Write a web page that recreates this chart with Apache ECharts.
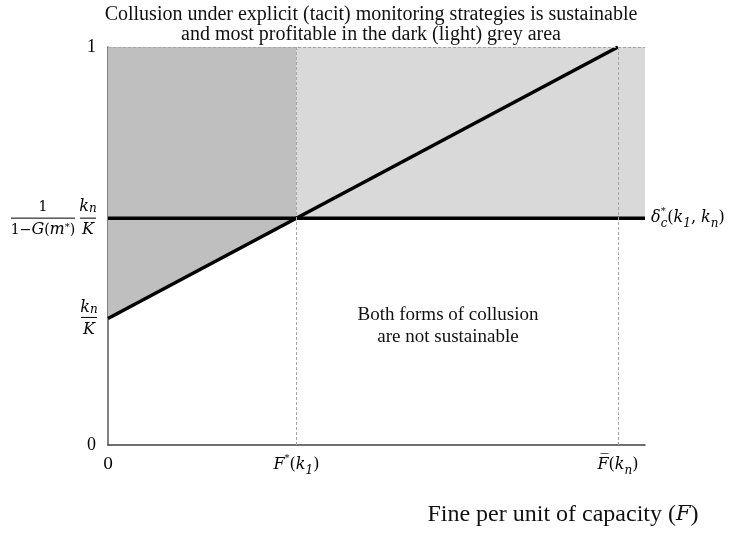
<!DOCTYPE html>
<html>
<head>
<meta charset="utf-8">
<script src="https://cdn.jsdelivr.net/npm/echarts@6/dist/echarts.min.js"></script>
<style>
  html, body { margin: 0; padding: 0; background: #fff; }
  #chart { width: 730px; height: 534px; }
</style>
</head>
<body>
<div id="chart"></div>
<script>
// 数据
const fineRange = [0, 1.053]       // 横轴范围 (F)
const fineValues = [0, 1]          // 显性共谋临界线的 F 值
const deltaEValues = [0.318, 1]    // δe*(kn, F)
const deltaCValues = [0.57, 0.57]  // δc*(k1, kn)
const fStar = 0.3695               // F*(k1)
const fBar = 1                     // F̄(kn)
const xTickValues = [0, fStar, fBar]
const xTickLabels = ['0', '{i|F}{sup|*}({i|k}{sub|1})', '{i|F\u0305}({i|k}{sub|n})']
const yTickValues = [0, 1]
const yTickLabels = ['0', '1']

// 字体：正文用 Liberation Serif，公式用 DejaVu Serif
const serif = 'Liberation Serif'
const math = 'DejaVu Serif'
const mathRich = {
  i: { fontFamily: math, fontStyle: 'italic', fontSize: 16, color: '#000' },
  sup: { fontFamily: math, fontSize: 10, verticalAlign: 'top', color: '#000' },
  supz: { fontFamily: math, fontSize: 10, verticalAlign: 'top', width: 0, color: '#000' },
  sub: { fontFamily: math, fontStyle: 'italic', fontSize: 12, verticalAlign: 'bottom', color: '#000' }
}

const chart = echarts.init(document.getElementById('chart'))

// 多边形区域（深灰 / 浅灰）
const polygonItem = (points, color) => (params, api) => ({
  type: 'polygon',
  shape: { points: points.map((p) => api.coord(p)) },
  style: { fill: color },
  silent: true
})

const darkArea = [[fineValues[0], 1], [fStar, 1], [fStar, deltaCValues[0]], [fineValues[0], deltaEValues[0]]]
const lightArea = [[fStar, deltaCValues[0]], [fineRange[1], deltaCValues[0]], [fineRange[1], 1], [fStar, 1]]

const option = {
  animation: false,
  title: {
    text: 'Collusion under explicit (tacit) monitoring strategies is sustainable\nand most profitable in the dark (light) grey area',
    left: 366,
    top: 0,
    textAlign: 'center',
    textStyle: { fontFamily: serif, fontSize: 20, fontWeight: 'normal', lineHeight: 20, color: '#111' }
  },
  grid: { left: 108, right: 85, top: 47, bottom: 89 },
  xAxis: {
    type: 'value',
    min: fineRange[0],
    max: fineRange[1],
    axisLine: { show: true, lineStyle: { color: '#404040', width: 1.5 } },
    axisTick: { show: false },
    splitLine: { show: false },
    axisLabel: {
      customValues: xTickValues,
      margin: 8,
      fontFamily: math,
      fontSize: 16,
      lineHeight: 24,
      color: '#000',
      rich: mathRich,
      formatter: (v) => {
        const idx = xTickValues.findIndex((t) => Math.abs(t - v) < 1e-6)
        return idx < 0 ? '' : xTickLabels[idx]
      }
    }
  },
  yAxis: {
    type: 'value',
    min: 0,
    max: 1,
    axisLine: { show: true, lineStyle: { color: '#595959', width: 1.5 } },
    axisTick: { show: false },
    splitLine: { show: false },
    axisLabel: {
      customValues: yTickValues,
      margin: 12,
      fontFamily: serif,
      fontSize: 18,
      color: '#000',
      formatter: (v) => yTickLabels[yTickValues.indexOf(v)] || ''
    }
  },
  series: [
    {
      type: 'custom',
      data: [[0, 0]],
      z: 1,
      renderItem: polygonItem(darkArea, '#bfbfbf')
    },
    {
      type: 'custom',
      data: [[0, 0]],
      z: 1,
      renderItem: polygonItem(lightArea, '#d9d9d9')
    },
    {
      // 虚线参考线
      type: 'line',
      data: [],
      z: 2,
      markLine: {
        silent: true,
        symbol: 'none',
        label: { show: false },
        lineStyle: { color: '#a6a6a6', type: [3, 2], width: 1 },
        data: [{ xAxis: fStar }, { xAxis: fBar }, { yAxis: 1 }]
      }
    },
    {
      name: 'deltaC',
      type: 'line',
      data: fineRange.map((f, i) => [f, deltaCValues[i]]),
      symbol: 'none',
      z: 3,
      lineStyle: { color: '#000', width: 3.5 },
      endLabel: {
        show: true,
        distance: 6,
        fontFamily: math,
        fontSize: 16,
        lineHeight: 24,
        color: '#000',
        rich: mathRich,
        formatter: () => '{i|δ}{supz|*}{sub|c}({i|k}{sub|1}, {i|k}{sub|n})'
      }
    },
    {
      name: 'deltaE',
      type: 'line',
      data: fineValues.map((f, i) => [f, deltaEValues[i]]),
      symbol: 'none',
      z: 3,
      lineStyle: { color: '#000', width: 3.5 }
    }
  ]
}

chart.setOption(option)

// 分式标签与注释文字
const px = (p) => chart.convertToPixel({ gridIndex: 0 }, p)
const yC = px([0, deltaCValues[0]])[1]
const yE = px([0, deltaEValues[0]])[1]
const fracText = (cx, y, text) => ({
  type: 'text',
  x: cx,
  y: y,
  style: { text: text, fontFamily: math, fontSize: 14, fill: '#000', align: 'center', verticalAlign: 'middle', rich: mathRich },
  silent: true
})
const bar = (x1, x2, y) => ({
  type: 'line',
  shape: { x1: x1, y1: y, x2: x2, y2: y },
  style: { stroke: '#000', lineWidth: 1 },
  silent: true
})

chart.setOption({
  graphic: [
    fracText(43, yC - 11, '1'),
    bar(11, 75, yC),
    fracText(43, yC + 12, '1−{i|G}({i|m}{sup|*})'),
    fracText(88, yC - 11, '{i|k}{sub|n}'),
    bar(80, 96, yC),
    fracText(88, yC + 12, '{i|K}'),
    fracText(89, yE - 11, '{i|k}{sub|n}'),
    bar(81, 97, yE - 1),
    fracText(89, yE + 11, '{i|K}'),
    {
      type: 'text',
      x: 527,
      y: 137,
      style: {
        text: '{i|δ}{supz|*}{sub|e}({i|k}{sub|n}, {i|F})',
        fontFamily: math, fontSize: 16, lineHeight: 24, fill: '#000',
        align: 'center', verticalAlign: 'middle', rich: mathRich
      },
      silent: true
    },
    {
      type: 'text',
      x: 448,
      y: 326,
      style: {
        text: 'Both forms of collusion\nare not sustainable',
        fontFamily: serif, fontSize: 19, lineHeight: 22, fill: '#111',
        align: 'center', verticalAlign: 'middle'
      },
      silent: true
    },
    {
      type: 'text',
      x: 563,
      y: 515,
      style: {
        text: 'Fine per unit of capacity ({i|F})',
        fontFamily: serif, fontSize: 24, fill: '#111',
        align: 'center', verticalAlign: 'middle',
        rich: { i: { fontFamily: math, fontStyle: 'italic', fontSize: 21, fill: '#111' } }
      },
      silent: true
    }
  ]
})

window.addEventListener('resize', function () {
  chart.resize()
})
</script>
</body>
</html>
